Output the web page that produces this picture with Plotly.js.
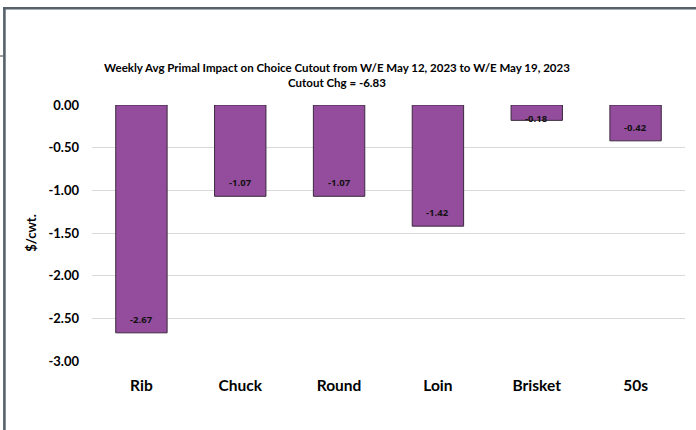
<!DOCTYPE html>
<html>
<head>
<meta charset="utf-8">
<script src="https://cdn.plot.ly/plotly-3.0.1.min.js"></script>
<style>
  html, body { margin: 0; padding: 0; background: #ffffff; }
  #chart { width: 696px; height: 430px; }
</style>
</head>
<body>
<div id="chart"></div>
<script>
// Primal cuts and their weekly average impact on the Choice cutout ($/cwt.)
const primals = ['Rib', 'Chuck', 'Round', 'Loin', 'Brisket', '50s'];
const impact = [-2.67, -1.07, -1.07, -1.42, -0.18, -0.42];
const tickValues = [0, -0.5, -1, -1.5, -2, -2.5, -3];
const tickLabels = ['0.00', '-0.50', '-1.00', '-1.50', '-2.00', '-2.50', '-3.00'];
const cutoutChange = -6.83;

const W = 696, H = 430;
const margin = { l: 92, r: 11, t: 105, b: 69, pad: 0 };
const yRange = [-3, 0];
const plotW = W - margin.l - margin.r;
const plotH = H - margin.t - margin.b;
const pxPerUnit = plotH / (yRange[1] - yRange[0]);

const FONT = 'Lato, "Open Sans", "Liberation Sans", sans-serif';
const LABEL_FONT = '"Open Sans", Lato, sans-serif';

// Value labels sit inside the bottom end of each bar; a bar too short to
// hold its label gets the label centred on its lower edge.
const labels = primals.map((p, i) => {
  const barPx = Math.abs(impact[i]) * pxPerUnit;
  const fits = barPx > 22;
  return {
    x: p, y: impact[i], xref: 'x', yref: 'y',
    text: '<b>' + impact[i].toFixed(2) + '</b>',
    showarrow: false,
    yanchor: fits ? 'bottom' : 'middle',
    yshift: fits ? 5 : 2,
    font: { family: LABEL_FONT, size: 9.5, color: '#111111' }
  };
});

// Frame lines and the small mark on the left edge (given in pixels)
const frame = [
  { x0: 3, y0: 8.3, x1: 696, y1: 8.3, w: 2.6, c: '#56616b' },
  { x0: 4.4, y0: 7, x1: 4.4, y1: 430, w: 2.6, c: '#56616b' },
  { x0: 0, y0: 56, x1: 3, y1: 56, w: 1, c: '#3a3a3a' }
].map(s => ({
  type: 'line', xref: 'paper', yref: 'paper',
  x0: (s.x0 - margin.l) / plotW,
  x1: (s.x1 - margin.l) / plotW,
  y0: (H - margin.b - s.y0) / plotH,
  y1: (H - margin.b - s.y1) / plotH,
  line: { color: s.c, width: s.w }
}));

const trace = {
  type: 'bar',
  x: primals,
  y: impact,
  marker: { color: '#944d9d', line: { color: '#3b2a3e', width: 1 } },
  hoverinfo: 'x+y'
};

const layout = {
  width: W, height: H,
  margin: margin,
  paper_bgcolor: '#ffffff',
  plot_bgcolor: '#ffffff',
  showlegend: false,
  bargap: 0.48,
  font: { family: FONT, color: '#000000' },
  title: {
    text: '<b>Weekly Avg Primal Impact on Choice Cutout from W/E May 12, 2023 to W/E May 19, 2023</b><br><b>Cutout Chg = ' + cutoutChange.toFixed(2) + '</b>',
    font: { family: FONT, size: 11.5, color: '#000000' },
    xref: 'container', x: 337 / W, xanchor: 'center',
    yref: 'container', y: 1 - 72 / H, yanchor: 'top'
  },
  xaxis: {
    type: 'category',
    showline: false, showgrid: false, zeroline: false, ticks: '',
    tickfont: { family: FONT, size: 15.5, color: '#000000', weight: 'bold' },
    ticklabelstandoff: 13
  },
  yaxis: {
    range: yRange,
    tickvals: tickValues,
    ticktext: tickLabels.map(t => '<b>' + t + '</b>'),
    tickfont: { family: FONT, size: 13, color: '#000000' },
    showgrid: true, gridcolor: '#d9d9d9', gridwidth: 1,
    zeroline: false, showline: false, ticks: '',
    ticklabelstandoff: 12,
    title: { text: '<b>$/cwt.</b>', font: { family: FONT, size: 13, color: '#000000' }, standoff: 8 }
  },
  annotations: labels,
  shapes: frame
};

Plotly.newPlot('chart', [trace], layout, { displayModeBar: false, staticPlot: true });
</script>
</body>
</html>
